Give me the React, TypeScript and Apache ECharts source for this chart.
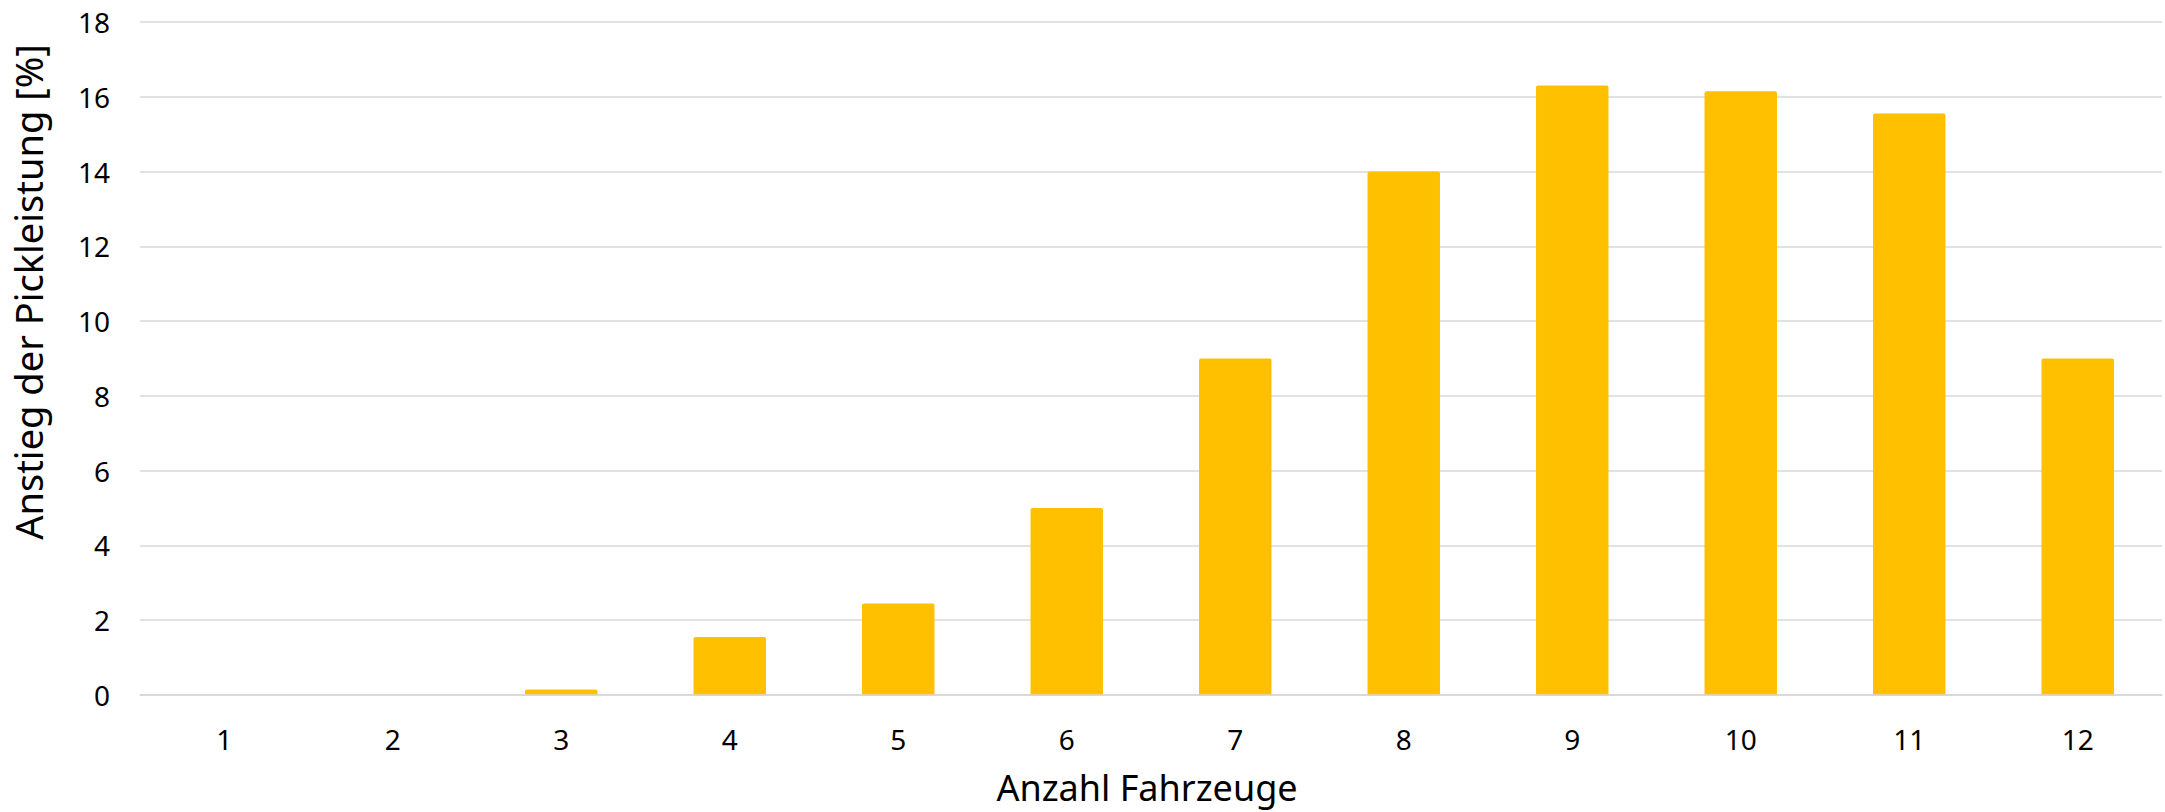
import React, { useEffect, useRef } from "react";
import * as echarts from "echarts";

const categories = ["1", "2", "3", "4", "5", "6", "7", "8", "9", "10", "11", "12"];
const values = [0, 0, 0.15, 1.55, 2.45, 5.0, 9.0, 14.0, 16.3, 16.15, 15.55, 9.0];
const yTitle = "Anstieg der Pickleistung [%]";
const xTitle = "Anzahl Fahrzeuge";

const FONT = "'Noto Sans', sans-serif";

export default function App() {
  const ref = useRef<HTMLDivElement>(null);
  useEffect(() => {
    document.body.style.margin = "0";
    const chart = echarts.init(ref.current!, null, { renderer: "svg" });
    chart.setOption({
      animation: false,
      backgroundColor: "#ffffff",
      textStyle: { fontFamily: FONT },
      grid: { left: 140, right: 3, top: 22, bottom: 117, containLabel: false },
      xAxis: {
        type: "category",
        data: categories,
        axisLine: { show: true, lineStyle: { color: "#D9D9D9", width: 1.5 } },
        axisTick: { show: false },
        axisLabel: { color: "#000000", fontSize: 28, fontFamily: FONT, margin: 30 },
      },
      yAxis: {
        type: "value",
        min: 0,
        max: 18,
        interval: 2,
        axisLine: { show: false },
        axisTick: { show: false },
        splitLine: { lineStyle: { color: "#D9D9D9", width: 1.5 } },
        axisLabel: { color: "#000000", fontSize: 28, fontFamily: FONT, margin: 30 },
      },
      graphic: [
        {
          type: "text",
          x: 28,
          y: 292,
          rotation: Math.PI / 2,
          style: {
            text: yTitle,
            fill: "#000000",
            fontSize: 38,
            fontFamily: FONT,
            textAlign: "center",
            textVerticalAlign: "middle",
          },
        },
        {
          type: "text",
          x: 1147,
          y: 787,
          style: {
            text: xTitle,
            fill: "#000000",
            fontSize: 36,
            fontFamily: FONT,
            textAlign: "center",
            textVerticalAlign: "middle",
          },
        },
      ],
      series: [
        {
          type: "bar",
          data: values,
          barWidth: "43%",
          itemStyle: { color: "#FFC000", borderRadius: [2, 2, 0, 0] },
          markLine: {
            silent: true,
            symbol: "none",
            label: { show: false },
            lineStyle: { color: "#D9D9D9", width: 1.5, type: "solid" },
            data: [{ yAxis: 0 }],
          },
        },
      ],
    });
    return () => chart.dispose();
  }, []);
  return <div ref={ref} style={{ width: 2165, height: 812 }} />;
}
